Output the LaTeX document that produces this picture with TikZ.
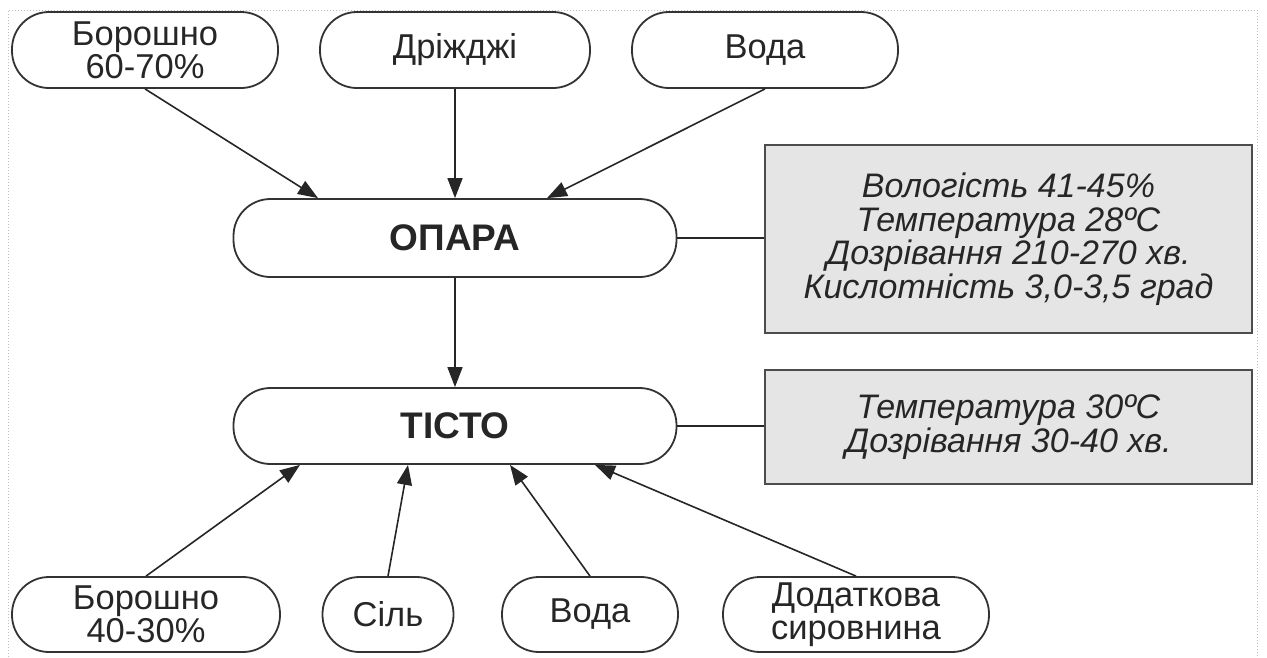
\documentclass[tikz,border=0pt]{standalone}
\usepackage{fontspec}
\setmainfont{Liberation Sans}
\usetikzlibrary{arrows.meta}
\begin{document}
\begin{tikzpicture}[x=1pt,y=-1pt,
 stad/.style={draw=black!80, line width=1.8pt, rounded corners=37pt, minimum height=76pt, inner sep=0pt, align=center, font=\fontsize{34.5}{33}\selectfont, text=black!85},
 hd/.style={font=\fontsize{37}{34}\selectfont\bfseries},
 info/.style={draw=black!70, line width=2.4pt, fill=black!10, inner sep=0pt, align=center, font=\fontsize{34}{33.5}\selectfont\itshape, text=black!85},
 arr/.style={line width=1.6pt, draw=black!85, -{Triangle[length=20pt,width=15pt]}},
 con/.style={line width=1.6pt, draw=black!85}]
\useasboundingbox (0,0) rectangle (1267,657);
\draw[dotted, black!25, line width=1pt] (8,657) -- (8,10) -- (1257,10) -- (1257,657);

\node[stad, minimum width=266pt] (b1) at (145,50) {Борошно\\60-70\%};
\node[stad, minimum width=270pt] (dr) at (455,50) {Дріжджі};
\node[stad, minimum width=266pt] (v1) at (765,50) {Вода};
\node[stad, hd, minimum width=443pt, minimum height=78pt] (op) at (455,238) {ОПАРА};
\node[stad, hd, minimum width=443pt] (ti) at (455,426) {ТІСТО};

\node[info, minimum width=487pt, minimum height=188pt] (i1) at (1008.5,239) {Вологість 41-45\%\\Температура 28ºC\\Дозрівання 210-270 хв.\\Кислотність 3,0-3,5 град};
\node[info, minimum width=487pt, minimum height=114pt] (i2) at (1008.5,427) {Температура 30ºC\\Дозрівання 30-40 хв.};

\node[stad, minimum width=268pt, minimum height=75pt] (b2) at (146,614.5) {Борошно\\40-30\%};
\node[stad, minimum width=131pt, minimum height=75pt] (s) at (388,614.5) {Сіль};
\node[stad, minimum width=176pt, minimum height=75pt] (v2) at (590,614.5) {Вода};
\node[stad, minimum width=266pt, minimum height=75pt] (d) at (856,614.5) {Додаткова\\сировнина};

\draw[arr] (b1.south) -- ([xshift=-137pt]op.north);
\draw[arr] (dr.south) -- (op.north);
\draw[arr] (v1.south) -- ([xshift=92pt]op.north);
\draw[arr] (op.south) -- (ti.north);
\draw[arr] (b2.north) -- ([xshift=-155pt]ti.south);
\draw[arr] (s.north) -- ([xshift=-47pt]ti.south);
\draw[arr] (v2.north) -- ([xshift=55pt]ti.south);
\draw[arr] (d.north) -- ([xshift=140pt]ti.south);
\draw[con] (op.east) -- (op.east -| i1.west);
\draw[con] (ti.east) -- (ti.east -| i2.west);
\end{tikzpicture}
\end{document}
